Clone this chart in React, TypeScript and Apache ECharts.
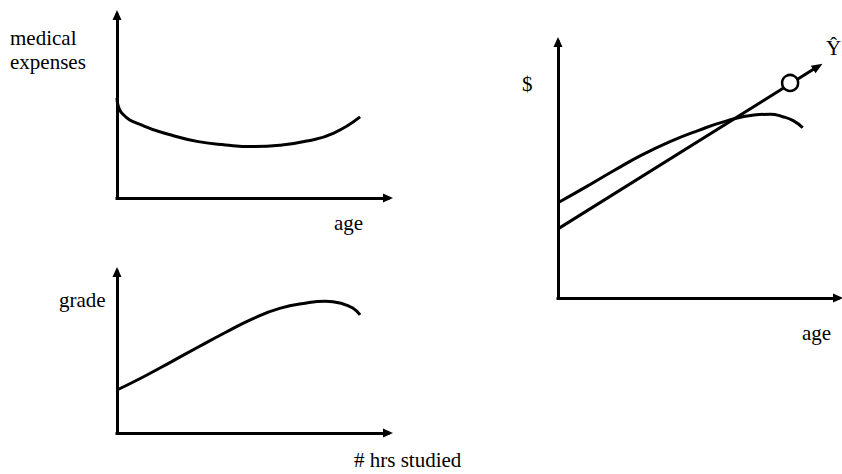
import React, { useEffect, useRef } from "react";
import * as echarts from "echarts";

// Panel 1: medical expenses vs age
const medAge = [0, 2, 10, 20, 30, 40, 50, 60, 70, 80, 89.7];
const medExpenses = [54.6, 46.0, 39.3, 34.4, 30.8, 29.0, 28.1, 28.8, 31.1, 35.5, 44.3];

// Panel 2: grade vs # hrs studied
const hrsStudied = [0, 10, 20, 30, 40, 50, 60, 70, 77, 83, 87, 89.7];
const grade = [26.7, 35.1, 44.2, 53.4, 62.4, 70.9, 77.4, 80.8, 81.8, 80.4, 77.6, 73.3];

// Panel 3: $ vs age (curve and fitted line Ŷ)
const dollarAge = [0, 10, 20, 30, 40, 50, 60, 70, 76, 80, 84, 87.4];
const dollars = [37.2, 43.4, 49.8, 55.9, 61.1, 65.4, 69.1, 71.5, 71.8, 70.9, 69.3, 66.5];
const yhatLine = [
  [0, 27.0],
  [92.8, 90.4],
];
const yhatMarker = [82.9, 84.0];

// Texts
const labelTexts = ["medical", "expenses", "age", "grade", "# hrs studied", "$", "age", "Ŷ"];

const zip = (xs: number[], ys: number[]) => xs.map((x, i) => [x, ys[i]]);

export default function App() {
  const ref = useRef<HTMLDivElement>(null);
  useEffect(() => {
    if (!ref.current) return;
    const chart = echarts.init(ref.current, null, { renderer: "svg" });

    const axisLine = {
      show: true,
      onZero: false,
      symbol: ["none", "triangle"],
      symbolSize: [9, 10],
      lineStyle: { color: "#000", width: 3, cap: "square" },
    };
    const mkAxis = (i: number) => ({
      type: "value",
      gridIndex: i,
      min: 0,
      max: 100,
      axisLine,
      axisTick: { show: false },
      axisLabel: { show: false },
      splitLine: { show: false },
    });

    const positions = [
      [10, 38],
      [10, 62],
      [334, 223],
      [59, 300],
      [354, 460],
      [522, 83.5],
      [802, 333],
      [826, 48],
    ];
    const graphics = labelTexts.map((t, i) => ({
      type: "text",
      x: positions[i][0],
      y: positions[i][1],
      silent: true,
      style: {
        text: t,
        fill: "#000",
        fontFamily: "'Liberation Serif', 'Times New Roman', Times, serif",
        fontSize: 21,
        verticalAlign: "middle",
        align: "left",
      },
    }));

    const curveStyle = { color: "#000", width: 3 };

    chart.setOption({
      animation: false,
      backgroundColor: "#fff",
      grid: [
        { left: 117, top: 15, width: 271, height: 183, outerBoundsMode: "none" },
        { left: 117, top: 272, width: 271, height: 161, outerBoundsMode: "none" },
        { left: 558, top: 42, width: 280, height: 256, outerBoundsMode: "none" },
      ],
      xAxis: [mkAxis(0), mkAxis(1), mkAxis(2)],
      yAxis: [mkAxis(0), mkAxis(1), mkAxis(2)],
      graphic: graphics,
      series: [
        {
          type: "line",
          xAxisIndex: 0,
          yAxisIndex: 0,
          data: zip(medAge, medExpenses),
          smooth: 0.5,
          showSymbol: false,
          silent: true,
          lineStyle: curveStyle,
        },
        {
          type: "line",
          xAxisIndex: 1,
          yAxisIndex: 1,
          data: zip(hrsStudied, grade),
          smooth: 0.5,
          showSymbol: false,
          silent: true,
          lineStyle: curveStyle,
        },
        {
          type: "line",
          xAxisIndex: 2,
          yAxisIndex: 2,
          data: zip(dollarAge, dollars),
          smooth: 0.5,
          showSymbol: false,
          silent: true,
          lineStyle: curveStyle,
        },
        {
          type: "line",
          xAxisIndex: 2,
          yAxisIndex: 2,
          data: [],
          silent: true,
          markLine: {
            silent: true,
            z: 3,
            symbol: ["none", "triangle"],
            symbolSize: [9, 11],
            label: { show: false },
            lineStyle: { color: "#000", width: 3, type: "solid" },
            emphasis: { disabled: true },
            data: [[{ coord: yhatLine[0] }, { coord: yhatLine[1] }]],
          },
        },
        {
          type: "scatter",
          xAxisIndex: 2,
          yAxisIndex: 2,
          z: 10,
          silent: true,
          data: [yhatMarker],
          symbol: "circle",
          symbolSize: 16,
          itemStyle: { color: "#fff", borderColor: "#000", borderWidth: 2.5, opacity: 1 },
        },
      ],
    });
    return () => chart.dispose();
  }, []);
  return (
    <div
      ref={ref}
      style={{ position: "fixed", left: 0, top: 0, width: 842, height: 474, background: "#fff" }}
    />
  );
}
